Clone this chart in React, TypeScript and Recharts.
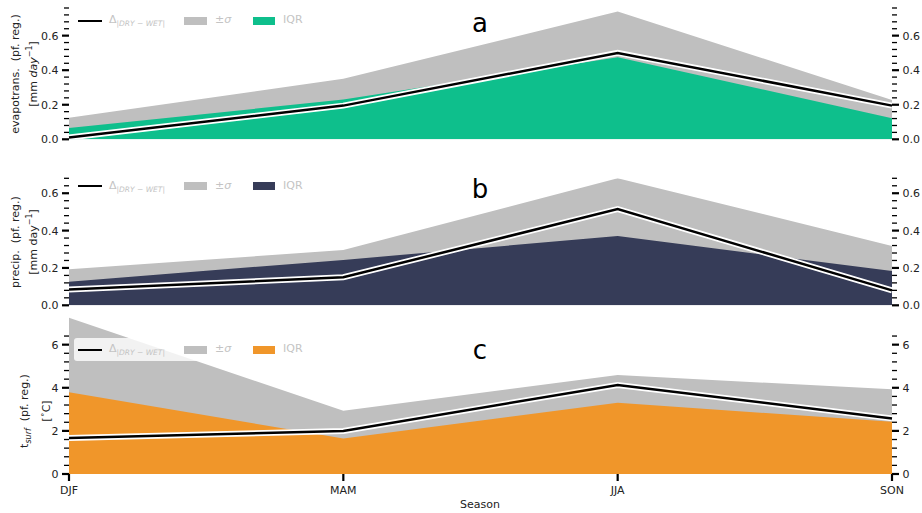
import { ComposedChart, Area, Line, XAxis, YAxis, Legend } from "recharts"

const seasons = ["DJF", "MAM", "JJA", "SON"]

// evapotranspiration
const etLine = [0.01, 0.195, 0.5, 0.195]
const etIqr = [0.065, 0.23, 0.475, 0.122]
const etSigma = [0.125, 0.35, 0.74, 0.228]

// precipitation
const prLine = [0.085, 0.15, 0.515, 0.08]
const prIqr = [0.126, 0.243, 0.371, 0.184]
const prSigma = [0.193, 0.296, 0.68, 0.318]

// surface temperature
const tsLine = [1.67, 2.0, 4.13, 2.58]
const tsIqr = [3.79, 1.65, 3.3, 2.42]
const tsSigma = [7.25, 2.93, 4.59, 3.93]

const FONT = "DejaVu Sans, sans-serif"
const GREY = "#bfbfbf"

function makeTicks(max: number, step: number) {
  const out: number[] = []
  for (let i = 0; i * step <= max + 1e-9; i++) out.push(Math.round(i * step * 1000) / 1000)
  return out
}

function YTick(props: any) {
  const { x, y, payload, side, major, digits } = props
  const v = payload.value as number
  const isMajor = Math.abs(v / major - Math.round(v / major)) < 1e-6
  const dir = side === "left" ? -1 : 1
  const len = isMajor ? 7 : 5
  return (
    <g>
      <line x1={x} x2={x + dir * len} y1={y} y2={y} stroke="#000" strokeWidth={isMajor ? 2.2 : 1.3} />
      {isMajor && (
        <text x={x + dir * 10.5} y={y} dy="0.36em" textAnchor={side === "left" ? "end" : "start"}
          fontSize={11} fill="#222" fontFamily={FONT}>
          {v.toFixed(digits)}
        </text>
      )}
    </g>
  )
}

function XTick(props: any) {
  const { x, y, payload } = props
  return (
    <g>
      <line x1={x} x2={x} y1={y} y2={y + 7} stroke="#000" strokeWidth={2.2} />
      <text x={x} y={y + 19.5} textAnchor="middle" fontSize={11} fill="#222" fontFamily={FONT}>
        {payload.value}
      </text>
    </g>
  )
}

function PanelLegend({ color }: { color: string }) {
  const txt = { position: "absolute" as const, top: 4, fontSize: 11, color: "#c4c4c4", fontFamily: FONT, lineHeight: "14px" }
  return (
    <div style={{ position: "relative", width: 236, height: 23, background: "rgba(255,255,255,0.8)", borderRadius: 3 }}>
      <div style={{ position: "absolute", left: 3.5, top: 10.5, width: 24, height: 2.2, background: "#000" }} />
      <div style={{ ...txt, left: 35 }}>
        Δ<span style={{ fontSize: 7.5, fontStyle: "italic", verticalAlign: -3 }}>|DRY − WET|</span>
      </div>
      <div style={{ position: "absolute", left: 110, top: 7.5, width: 23, height: 8, background: GREY }} />
      <div style={{ ...txt, left: 141 }}>±<i>σ</i></div>
      <div style={{ position: "absolute", left: 179, top: 7.5, width: 22, height: 8, background: color }} />
      <div style={{ ...txt, left: 209 }}>IQR</div>
    </div>
  )
}

type PanelProps = {
  line: number[]; iqr: number[]; sigma: number[]; color: string
  top: number; height: number; mTop: number; mBottom: number
  max: number; tickMax: number; step: number; major: number; digits: number
  legendTop: number; showX: boolean
}

function Panel(p: PanelProps) {
  const data = seasons.map((s, i) => ({ season: s, line: p.line[i], iqr: p.iqr[i], sigma: p.sigma[i] }))
  const ticks = makeTicks(p.tickMax, p.step)
  return (
    <div style={{ position: "absolute", left: 0, top: p.top }}>
      <ComposedChart width={922} height={p.height} data={data} margin={{ top: p.mTop, right: 0, bottom: p.mBottom, left: 0 }}>
        <XAxis dataKey="season" scale="point" padding={{ left: 0, right: 0 }} hide={!p.showX} height={39}
          axisLine={false} tickLine={false} tickSize={0} tickMargin={0} tick={<XTick />} interval={0} />
        <YAxis yAxisId="l" orientation="left" width={69} domain={[0, p.max]} ticks={ticks} allowDataOverflow
          axisLine={false} tickLine={false} tickSize={0} tickMargin={0} interval={0}
          tick={(t: any) => <YTick {...t} side="left" major={p.major} digits={p.digits} />} />
        <YAxis yAxisId="r" orientation="right" width={30} domain={[0, p.max]} ticks={ticks} allowDataOverflow
          axisLine={false} tickLine={false} tickSize={0} tickMargin={0} interval={0}
          tick={(t: any) => <YTick {...t} side="right" major={p.major} digits={p.digits} />} />
        <Area yAxisId="l" type="linear" dataKey="sigma" fill={GREY} fillOpacity={1} stroke="none" isAnimationActive={false} />
        <Area yAxisId="l" type="linear" dataKey="iqr" fill={p.color} fillOpacity={1} stroke="none" isAnimationActive={false} />
        <Line yAxisId="l" type="linear" dataKey="line" stroke="#fff" strokeWidth={6} dot={false} isAnimationActive={false} />
        <Line yAxisId="l" type="linear" dataKey="line" stroke="#000" strokeWidth={2.5} dot={false} isAnimationActive={false} />
        <Legend layout="horizontal" verticalAlign="middle" align="center" content={() => <PanelLegend color={p.color} />}
          wrapperStyle={{ left: 74, top: p.legendTop, width: 236 }} />
      </ComposedChart>
    </div>
  )
}

const abs = (left: number, top: number) => ({ position: "absolute" as const, left, top })

function YLabel({ x, y, children }: { x: number; y: number; children: any }) {
  return (
    <div style={{ ...abs(x, y), transform: "translate(-50%, -50%) rotate(-90deg)", whiteSpace: "nowrap",
      textAlign: "center", fontFamily: FONT, fontSize: 11, lineHeight: "14px", color: "#222" }}>
      {children}
    </div>
  )
}

function Letter({ x, y, t }: { x: number; y: number; t: string }) {
  return (
    <div style={{ ...abs(x, y), transform: "translate(-50%, -100%)", fontFamily: FONT, fontSize: 26, lineHeight: "26px", color: "#000" }}>
      {t}
    </div>
  )
}

export default function App() {
  return (
    <div style={{ position: "absolute", left: 0, top: 0, width: 922, height: 513, background: "#fff", overflow: "hidden" }}>
      <Panel line={etLine} iqr={etIqr} sigma={etSigma} color="#0ebf8c" top={0} height={150} mTop={8} mBottom={10.7}
        max={0.76} tickMax={0.76} step={0.04} major={0.2} digits={1} legendTop={9} showX={false} />
      <Panel line={prLine} iqr={prIqr} sigma={prSigma} color="#363c58" top={165} height={150} mTop={13.3} mBottom={9.7}
        max={0.68} tickMax={0.68} step={0.04} major={0.2} digits={1} legendTop={9.5} showX={false} />
      <Panel line={tsLine} iqr={tsIqr} sigma={tsSigma} color="#f0962a" top={310} height={203} mTop={6} mBottom={0}
        max={7.33} tickMax={6.4} step={0.4} major={2} digits={0} legendTop={28} showX={true} />

      <Letter x={480} y={36} t="a" />
      <Letter x={480} y={202} t="b" />
      <Letter x={480} y={363} t="c" />

      <YLabel x={24.5} y={73.5}>
        evapotrans.&nbsp; (pf. reg.)<br />[mm <i>day</i><sup style={{ fontSize: 8 }}>−1</sup>]
      </YLabel>
      <YLabel x={24.5} y={241.5}>
        precip.&nbsp; (pf. reg.)<br />[mm day<sup style={{ fontSize: 8 }}>−1</sup>]
      </YLabel>
      <YLabel x={36} y={411}>
        t<sub style={{ fontSize: 8, fontStyle: "italic" }}>surf</sub>&nbsp; (pf. reg.)<br />[<sup style={{ fontSize: 8 }}>∘</sup>C]
      </YLabel>

      <div style={{ ...abs(480, 508), transform: "translate(-50%, -80%)", fontFamily: FONT, fontSize: 11, color: "#222" }}>
        Season
      </div>
    </div>
  )
}
